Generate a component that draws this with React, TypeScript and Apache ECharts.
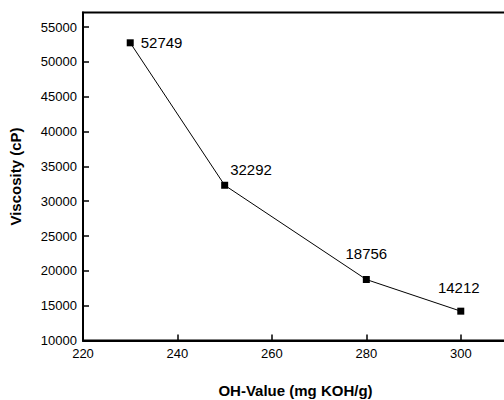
import React, { useEffect, useRef } from "react";
import * as echarts from "echarts";

const ohValues = [230, 250, 280, 300];
const viscosity = [52749, 32292, 18756, 14212];
const xTicks = [220, 240, 260, 280, 300];
const yTicks = [10000, 15000, 20000, 25000, 30000, 35000, 40000, 45000, 50000, 55000];
const xName = "OH-Value (mg KOH/g)";
const yName = "Viscosity (cP)";

const FONT = "'Liberation Sans', Arial, Helvetica, sans-serif";

export default function App() {
  const ref = useRef<HTMLDivElement>(null);
  useEffect(() => {
    if (!ref.current) return;
    const chart = echarts.init(ref.current, null, { renderer: "svg" });
    const labelCfg = [
      { position: "right", distance: 7, offset: [0, 0] },
      { position: "right", distance: 2, offset: [0, -16] },
      { position: "top", distance: 15, offset: [0, 0] },
      { position: "top", distance: 13, offset: [-2, 0] },
    ];
    const data = ohValues.map((x, i) => ({
      value: [x, viscosity[i]],
      label: labelCfg[i],
    }));
    chart.setOption({
      animation: false,
      backgroundColor: "#fff",
      grid: {
        left: 83,
        top: 12.5,
        height: 328,
        width: 425,
        outerBoundsMode: "none",
        containLabel: false,
        show: true,
        borderColor: "#000",
        borderWidth: 2,
        backgroundColor: "transparent",
      },
      xAxis: {
        type: "value",
        min: 220,
        max: 310,
        interval: 20,
        name: xName,
        nameLocation: "middle",
        nameGap: 42,
        nameTextStyle: { fontFamily: FONT, fontSize: 15, fontWeight: "bold", color: "#000" },
        axisLine: { show: true, onZero: false, lineStyle: { color: "#000", width: 2 } },
        axisTick: { show: true, inside: true, length: 6, lineStyle: { color: "#000", width: 1.5 }, customValues: xTicks },
        axisLabel: { color: "#000", fontFamily: FONT, fontSize: 13, margin: 6, customValues: xTicks, formatter: (v: number) => String(v) },
        splitLine: { show: false },
      },
      yAxis: {
        type: "value",
        min: 10000,
        max: 57100,
        interval: 5000,
        name: yName,
        nameLocation: "middle",
        nameGap: 60,
        nameTextStyle: { fontFamily: FONT, fontSize: 15, fontWeight: "bold", color: "#000" },
        axisLine: { show: true, onZero: false, lineStyle: { color: "#000", width: 2 } },
        axisTick: { show: true, inside: true, length: 6, lineStyle: { color: "#000", width: 1.5 }, customValues: yTicks },
        axisLabel: { color: "#000", fontFamily: FONT, fontSize: 13, margin: 6, customValues: yTicks, formatter: (v: number) => String(v) },
        splitLine: { show: false },
      },
      series: [
        {
          type: "line",
          data,
          symbol: "rect",
          symbolSize: 7,
          itemStyle: { color: "#000" },
          lineStyle: { color: "#000", width: 1 },
          label: {
            show: true,
            color: "#000",
            fontFamily: FONT,
            fontSize: 15,
            formatter: (p: any) => String(p.value[1]),
          },
        },
      ],
    });
    return () => chart.dispose();
  }, []);
  return (
    <div
      ref={ref}
      style={{ position: "fixed", left: 0, top: 0, width: 504, height: 400 }}
    />
  );
}
